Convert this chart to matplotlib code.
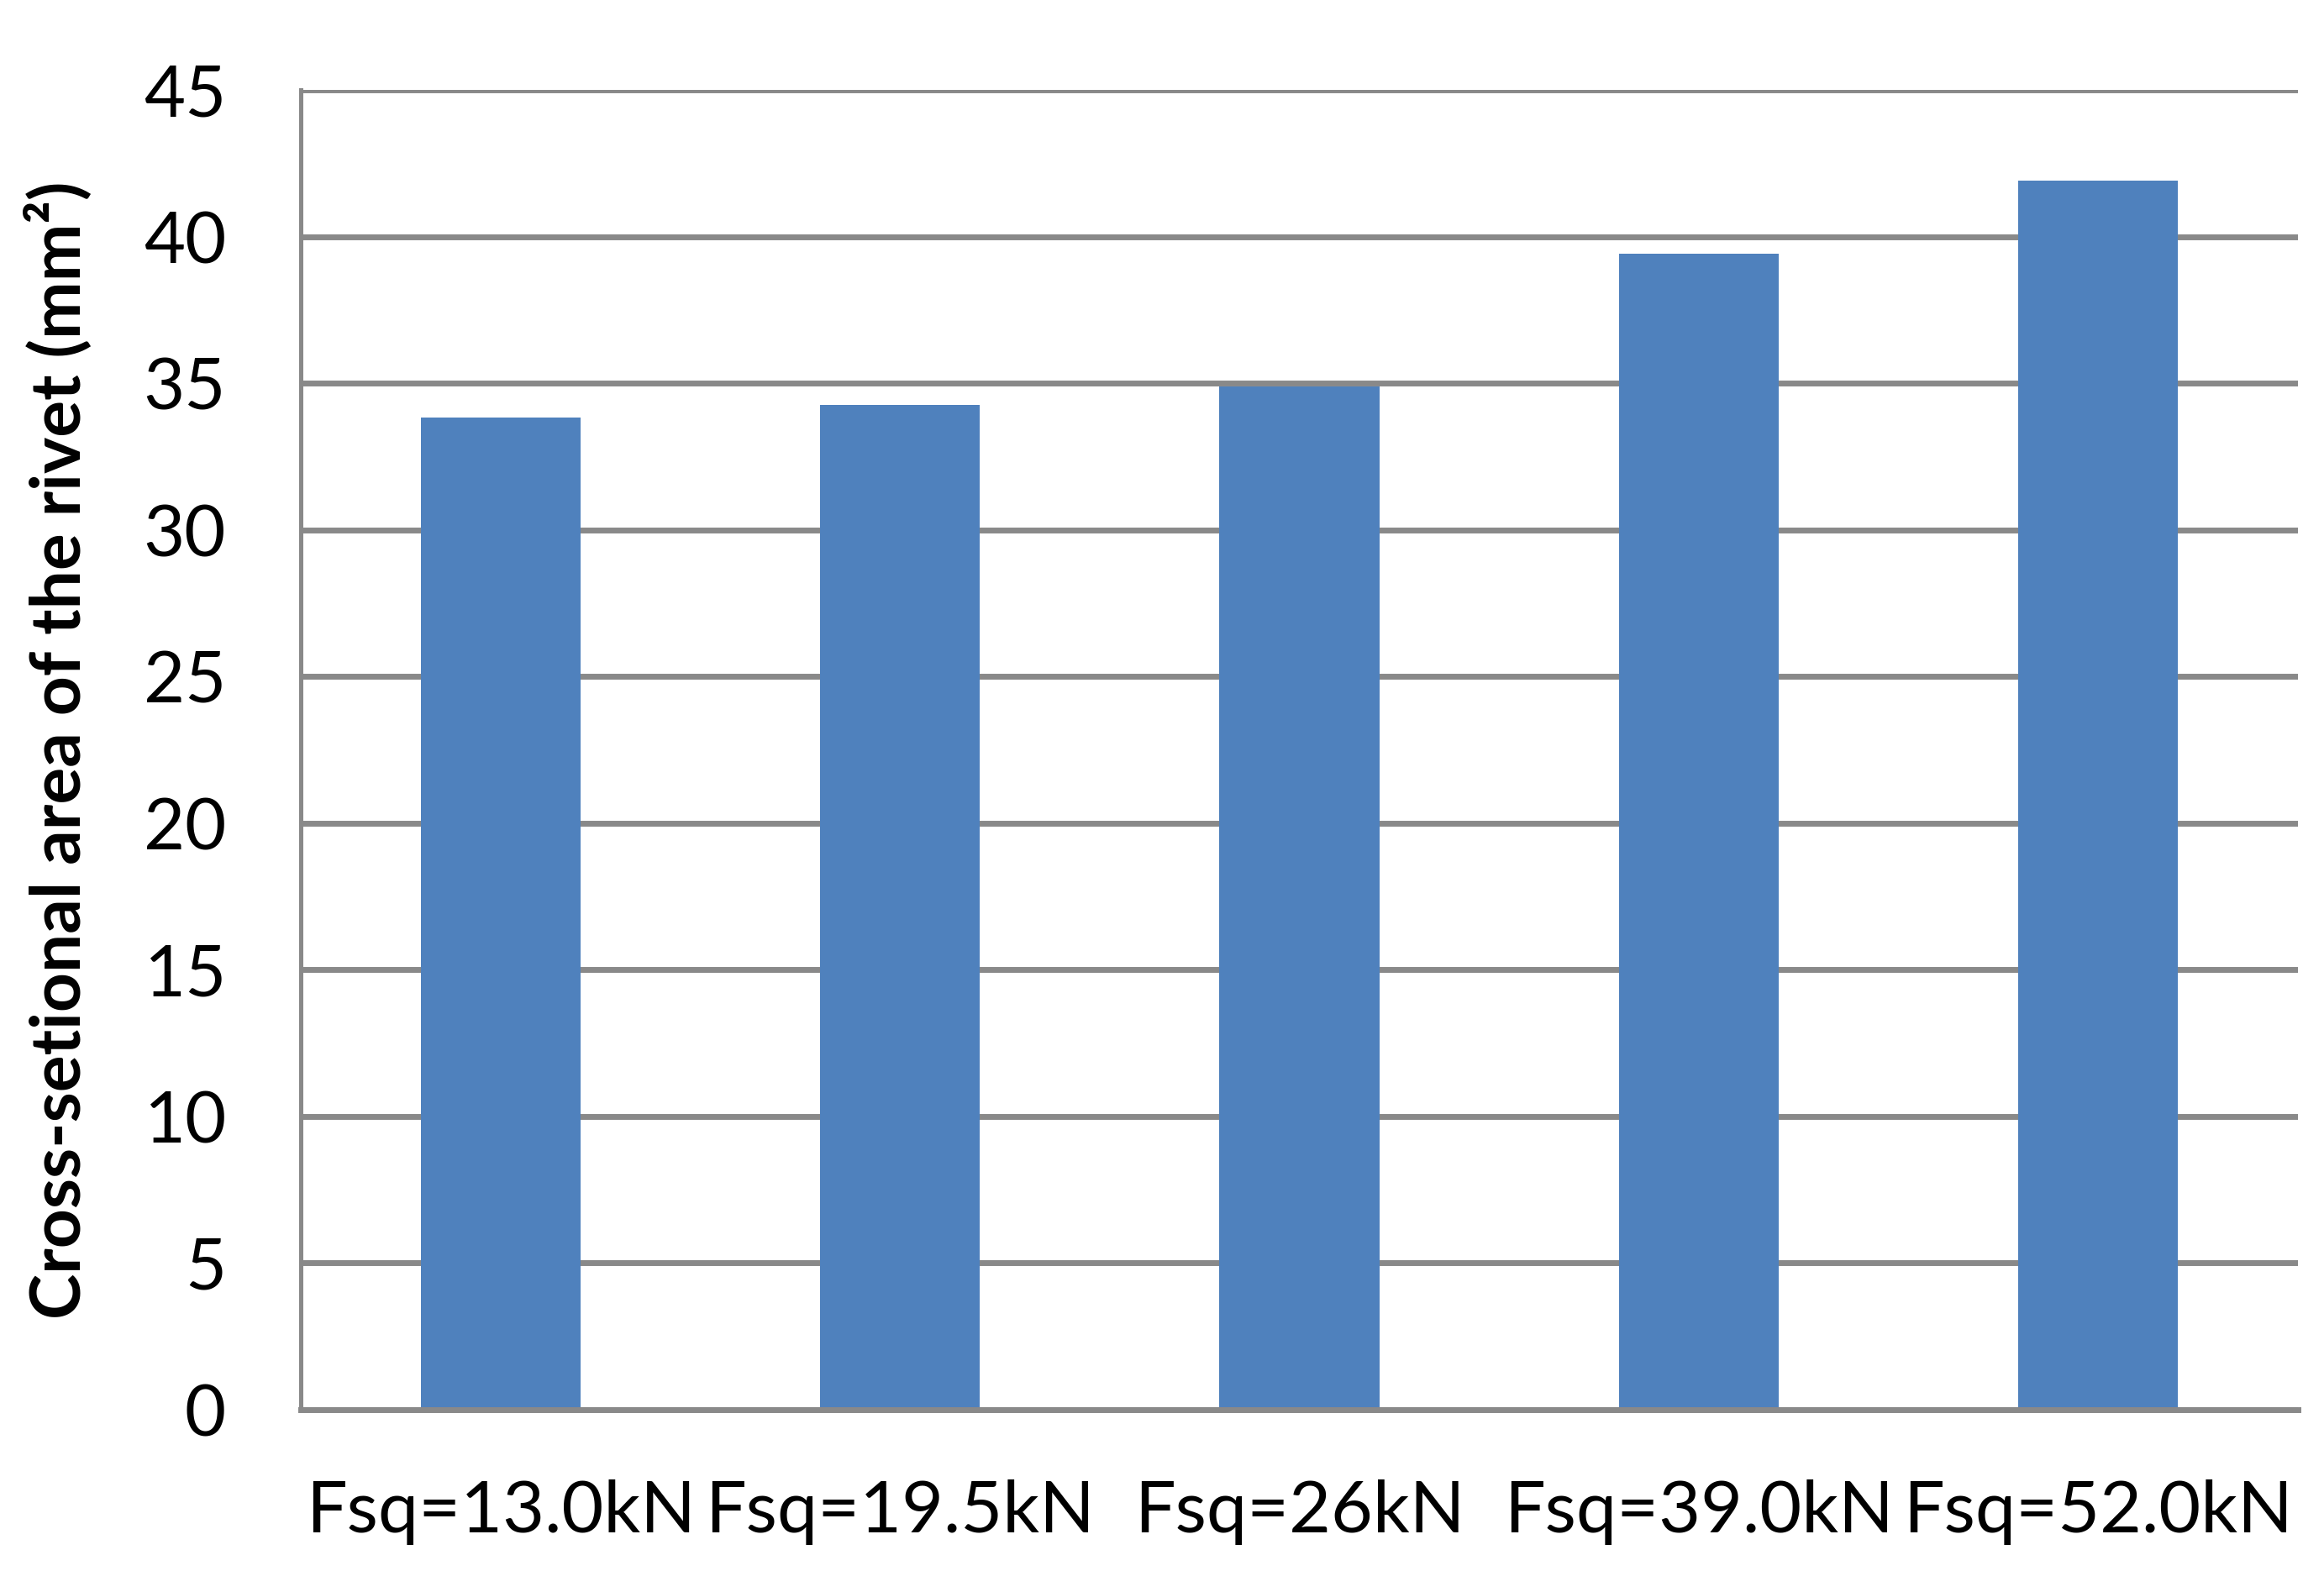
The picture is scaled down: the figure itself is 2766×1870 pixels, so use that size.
#
# Bar chart of rivet cross-sectional area against squeeze force
#

import numpy as np
from matplotlib import pyplot as plt

# data
forces = ['Fsq=13.0kN', 'Fsq=19.5kN', 'Fsq=26kN', 'Fsq=39.0kN', 'Fsq=52.0kN']
areas = [33.83, 34.26, 34.89, 39.42, 41.91]
yticks = [0, 5, 10, 15, 20, 25, 30, 35, 40, 45]

BAR_COLOUR = '#4F81BD'
GRID_COLOUR = '#898989'

plt.rcParams['font.family'] = ['Lato', 'DejaVu Sans']

fig = plt.figure(figsize=(27.66, 18.70), dpi=100)
ax = fig.add_axes([0.1294, 0.1027, 0.8594, 0.8401])

x = np.arange(len(forces))
ax.bar(x, areas, width=0.4, color=BAR_COLOUR, zorder=3)

ax.set_xlim(-0.5, len(forces) - 0.5)
ax.set_ylim(0, 45)
ax.set_yticks(yticks)
ax.set_yticklabels([str(t) for t in yticks])
ax.set_xticks(x)
ax.set_xticklabels(forces)

# horizontal gridlines like the spreadsheet chart
ax.yaxis.grid(True, color=GRID_COLOUR, linewidth=5, zorder=0)
ax.set_axisbelow(True)

for side in ['top', 'right']:
    ax.spines[side].set_visible(False)
ax.spines['left'].set_color(GRID_COLOUR)
ax.spines['left'].set_linewidth(3.6)
ax.spines['bottom'].set_color(GRID_COLOUR)
ax.spines['bottom'].set_linewidth(5)
ax.spines['bottom'].set_zorder(4)

ax.tick_params(axis='y', length=0, pad=64, labelsize=61)
ax.tick_params(axis='x', length=0, pad=60, labelsize=62)

ax.set_ylabel('Cross-setional area of the rivet (mm\u00b2)', fontsize=59,
              fontweight='bold', labelpad=44)

plt.savefig('out.png', dpi=100)
